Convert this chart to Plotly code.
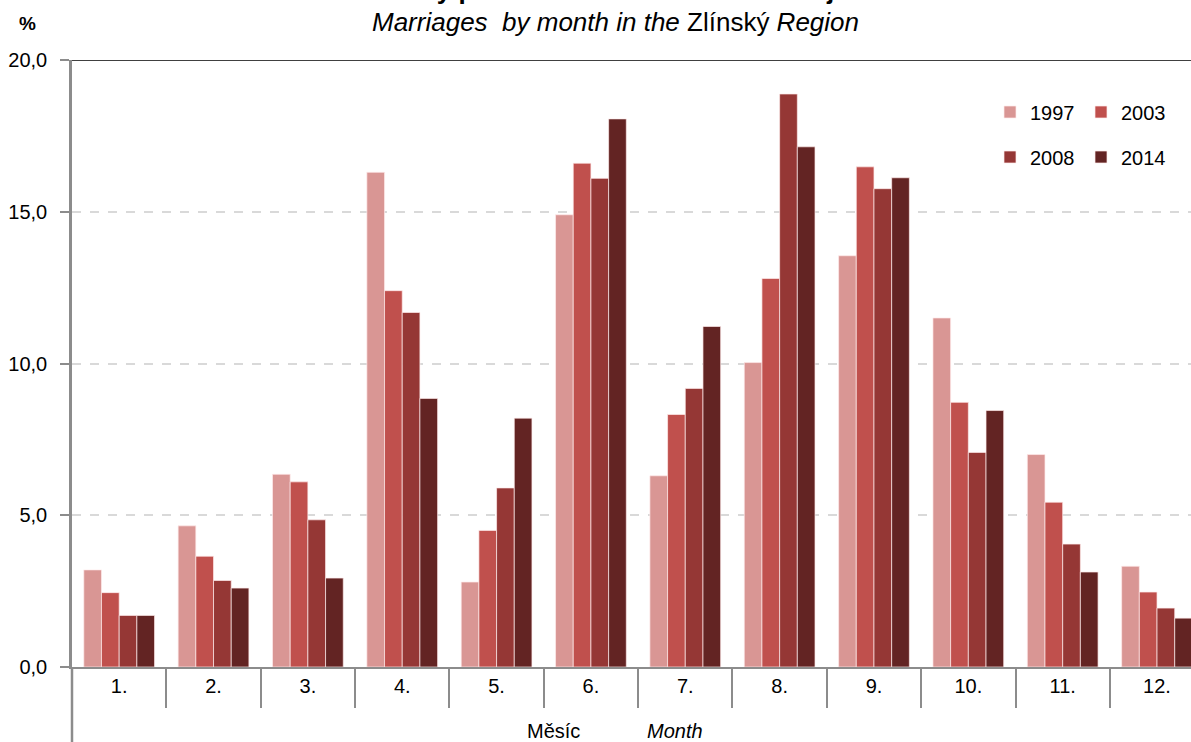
import plotly.graph_objects as go

months = ["1.", "2.", "3.", "4.", "5.", "6.", "7.", "8.", "9.", "10.", "11.", "12."]
years = ["1997", "2003", "2008", "2014"]
v1997 = [3.2, 4.65, 6.35, 16.3, 2.8, 14.9, 6.3, 10.03, 13.55, 11.5, 7.0, 3.32]
v2003 = [2.45, 3.65, 6.1, 12.4, 4.5, 16.6, 8.32, 12.8, 16.48, 8.72, 5.43, 2.47]
v2008 = [1.7, 2.85, 4.85, 11.68, 5.9, 16.1, 9.18, 18.88, 15.76, 7.07, 4.05, 1.94]
v2014 = [1.7, 2.6, 2.93, 8.85, 8.2, 18.06, 11.22, 17.14, 16.12, 8.45, 3.13, 1.61]
colors = ["#D99694", "#C0504D", "#953735", "#632423"]
series = [v1997, v2003, v2008, v2014]
legend_ids = ["legend", "legend", "legend2", "legend2"]

FONT = "Liberation Sans, Arial, sans-serif"
AX = "#8C8C8C"
L, T, B = 72, 60, 75
PW, PH = 1191 - L, 742 - T - B


def px_x(x):
    return (x - L) / PW


def px_y(y):
    return (742 - B - y) / PH


fig = go.Figure()
for name, vals, col, lg in zip(years, series, colors, legend_ids):
    fig.add_trace(go.Bar(
        x=months, y=vals, name=name, legend=lg,
        marker=dict(color=col, line=dict(color="rgba(255,235,235,0.7)", width=1)),
    ))

leg_common = dict(orientation="h", xanchor="left", yanchor="middle",
                  entrywidth=46, entrywidthmode="pixels",
                  font=dict(size=20), bgcolor="rgba(0,0,0,0)", itemwidth=30,
                  traceorder="normal")
fig.update_layout(
    width=1191, height=742,
    margin=dict(l=L, r=0, t=T, b=B, autoexpand=False),
    paper_bgcolor="white", plot_bgcolor="white",
    separators=", ",
    barmode="group", bargap=0.25, bargroupgap=0,
    font=dict(family=FONT, size=20, color="black"),
    showlegend=True,
    legend=dict(x=px_x(990), y=px_y(112), **leg_common),
    legend2=dict(x=px_x(990), y=px_y(157), **leg_common),
)

fig.update_xaxes(
    type="category", range=[-0.5, 11.36],
    showline=True, linecolor=AX, linewidth=2,
    ticks="outside", tickson="boundaries", ticklen=39, tickcolor=AX, tickwidth=2,
    showgrid=False, tickfont=dict(size=20),
)
fig.update_yaxes(
    range=[0, 20], tickvals=[0, 5, 10, 15, 20], tickformat=".1f",
    showline=True, linecolor=AX, linewidth=2.5,
    ticks="outside", ticklen=9, tickcolor=AX, tickwidth=2,
    ticklabelstandoff=9,
    showgrid=True, gridcolor="#D9D9D9", gridwidth=1.5, griddash="dash",
    zeroline=False, tickfont=dict(size=20),
)

# top border line at 20
fig.add_shape(type="line", xref="paper", yref="y", x0=0, x1=1, y0=20, y1=20,
              line=dict(color="black", width=1.5))
# y-axis line extending below x-axis
fig.add_shape(type="line", xref="paper", yref="paper", x0=0, x1=0, y0=0, y1=px_y(742),
              line=dict(color=AX, width=2.5))

# titles
fig.add_annotation(text="<b>Sňatky podle měsíců ve Zlínském kraji</b>", xref="paper", yref="paper",
                   x=px_x(603), y=px_y(-10), xanchor="center", yanchor="middle",
                   showarrow=False, font=dict(size=26))
fig.add_annotation(text="<i>Marriages  by month in the</i> Zlínský <i>Region</i>", xref="paper", yref="paper",
                   x=px_x(615), y=px_y(22), xanchor="center", yanchor="middle",
                   showarrow=False, font=dict(size=26))
fig.add_annotation(text="<b>%</b>", xref="paper", yref="paper",
                   x=px_x(27), y=px_y(24), xanchor="center", yanchor="middle",
                   showarrow=False, font=dict(size=19))
fig.add_annotation(text="Měsíc", xref="paper", yref="paper",
                   x=px_x(553), y=px_y(731), xanchor="center", yanchor="middle",
                   showarrow=False, font=dict(size=20))
fig.add_annotation(text="<i>Month</i>", xref="paper", yref="paper",
                   x=px_x(675), y=px_y(731), xanchor="center", yanchor="middle",
                   showarrow=False, font=dict(size=20))

fig.write_html("out.html", config={"displayModeBar": False},
               post_script="document.body.style.margin='0';document.body.style.overflow='hidden';")
